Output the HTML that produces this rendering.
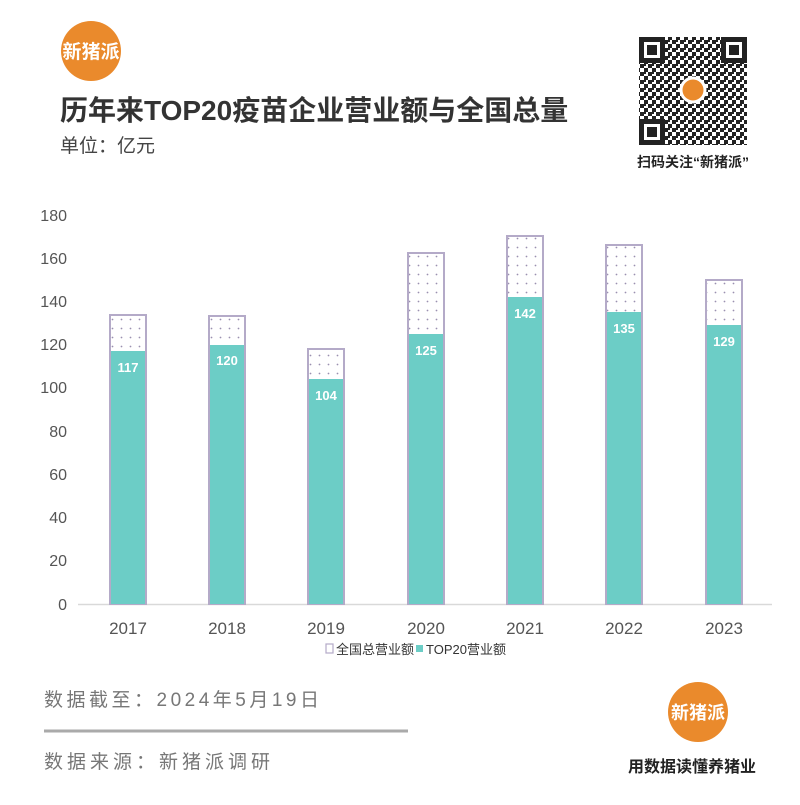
<!DOCTYPE html>
<html><head><meta charset="utf-8"><style>
body{margin:0;background:#fff;}
svg text{font-family:"Liberation Sans","Noto Sans CJK SC",sans-serif;}
</style></head><body>
<svg width="800" height="800" viewBox="0 0 800 800" xmlns="http://www.w3.org/2000/svg">
<defs>
<pattern id="dots" width="9" height="9" patternUnits="userSpaceOnUse">
<rect width="9" height="9" fill="#fff"/>
<circle cx="4.5" cy="4.5" r="0.9" fill="#9a90b0"/>
</pattern>
<pattern id="qr" width="8" height="8" patternUnits="userSpaceOnUse">
<rect width="8" height="8" fill="#fff"/>
<rect x="0" y="0" width="4" height="4" fill="#222"/><rect x="4" y="4" width="4" height="4" fill="#222"/><rect x="4" y="0" width="2" height="2" fill="#222"/>
</pattern>
</defs>
<rect width="800" height="800" fill="#fff"/>
<circle cx="91" cy="51" r="30" fill="#ea8a2c"/>
<text x="91" y="58" font-size="19" font-weight="bold" fill="#fff" text-anchor="middle">新猪派</text>
<text x="60" y="120" font-size="28" font-weight="bold" fill="#333">历年来TOP20疫苗企业营业额与全国总量</text>
<text x="60" y="152" font-size="19" fill="#444">单位：亿元</text>
<!-- QR -->
<rect x="639" y="37" width="108" height="108" fill="url(#qr)"/>
<g fill="#222">
<rect x="639" y="37" width="26" height="26"/><rect x="644" y="42" width="16" height="16" fill="#fff"/><rect x="647" y="45" width="10" height="10"/>
<rect x="721" y="37" width="26" height="26"/><rect x="726" y="42" width="16" height="16" fill="#fff"/><rect x="729" y="45" width="10" height="10"/>
<rect x="639" y="119" width="26" height="26"/><rect x="644" y="124" width="16" height="16" fill="#fff"/><rect x="647" y="127" width="10" height="10"/>
</g>
<circle cx="693" cy="90" r="12" fill="#ea8a2c" stroke="#fff" stroke-width="3"/>
<text x="693" y="167" font-size="14" font-weight="bold" fill="#222" text-anchor="middle">扫码关注“新猪派”</text>
<g font-size="16" fill="#555" text-anchor="end">
<text x="67" y="221">180</text><text x="67" y="264">160</text><text x="67" y="307">140</text>
<text x="67" y="350">120</text><text x="67" y="393">100</text><text x="67" y="437">80</text>
<text x="67" y="480">60</text><text x="67" y="523">40</text><text x="67" y="566">20</text><text x="67" y="610">0</text>
</g>
<line x1="78" y1="604.5" x2="772" y2="604.5" stroke="#d9d9d9" stroke-width="1.5"/>
<g stroke="#b4aac8" stroke-width="2">
<rect x="110" y="315" width="36" height="289" fill="url(#dots)"/>
<rect x="209" y="316" width="36" height="288" fill="url(#dots)"/>
<rect x="308" y="349" width="36" height="255" fill="url(#dots)"/>
<rect x="408" y="253" width="36" height="351" fill="url(#dots)"/>
<rect x="507" y="236" width="36" height="368" fill="url(#dots)"/>
<rect x="606" y="245" width="36" height="359" fill="url(#dots)"/>
<rect x="706" y="280" width="36" height="324" fill="url(#dots)"/>
</g>
<g fill="#6ccdc6">
<rect x="111" y="351" width="34" height="253"/>
<rect x="210" y="345" width="34" height="259"/>
<rect x="309" y="379" width="34" height="225"/>
<rect x="409" y="334" width="34" height="270"/>
<rect x="508" y="297" width="34" height="307"/>
<rect x="607" y="312" width="34" height="292"/>
<rect x="707" y="325" width="34" height="279"/>
</g>
<g font-size="13" font-weight="bold" fill="#fff" text-anchor="middle">
<text x="128" y="372">117</text><text x="227" y="365">120</text><text x="326" y="400">104</text>
<text x="426" y="355">125</text><text x="525" y="318">142</text><text x="624" y="333">135</text><text x="724" y="346">129</text>
</g>
<g font-size="17" fill="#555" text-anchor="middle">
<text x="128" y="634">2017</text><text x="227" y="634">2018</text><text x="326" y="634">2019</text>
<text x="426" y="634">2020</text><text x="525" y="634">2021</text><text x="624" y="634">2022</text><text x="724" y="634">2023</text>
</g>
<rect x="326" y="644" width="7" height="9" fill="#fff" stroke="#b4aac8" stroke-width="1.2"/>
<text x="336" y="654" font-size="13" fill="#333">全国总营业额</text>
<rect x="416" y="645" width="7" height="7" fill="#6ccdc6"/>
<text x="426" y="654" font-size="13" fill="#333">TOP20营业额</text>
<text x="44" y="706" font-size="19" fill="#777" letter-spacing="3.5">数据截至：2024年5月19日</text>
<line x1="44" y1="731" x2="408" y2="731" stroke="#aaa" stroke-width="3"/>
<text x="44" y="768" font-size="19" fill="#777" letter-spacing="4">数据来源：新猪派调研</text>
<circle cx="698" cy="712" r="30" fill="#ea8a2c"/>
<text x="698" y="719" font-size="18" font-weight="bold" fill="#fff" text-anchor="middle">新猪派</text>
<text x="692" y="772" font-size="16" font-weight="bold" fill="#222" text-anchor="middle">用数据读懂养猪业</text>
</svg>
</body></html>
